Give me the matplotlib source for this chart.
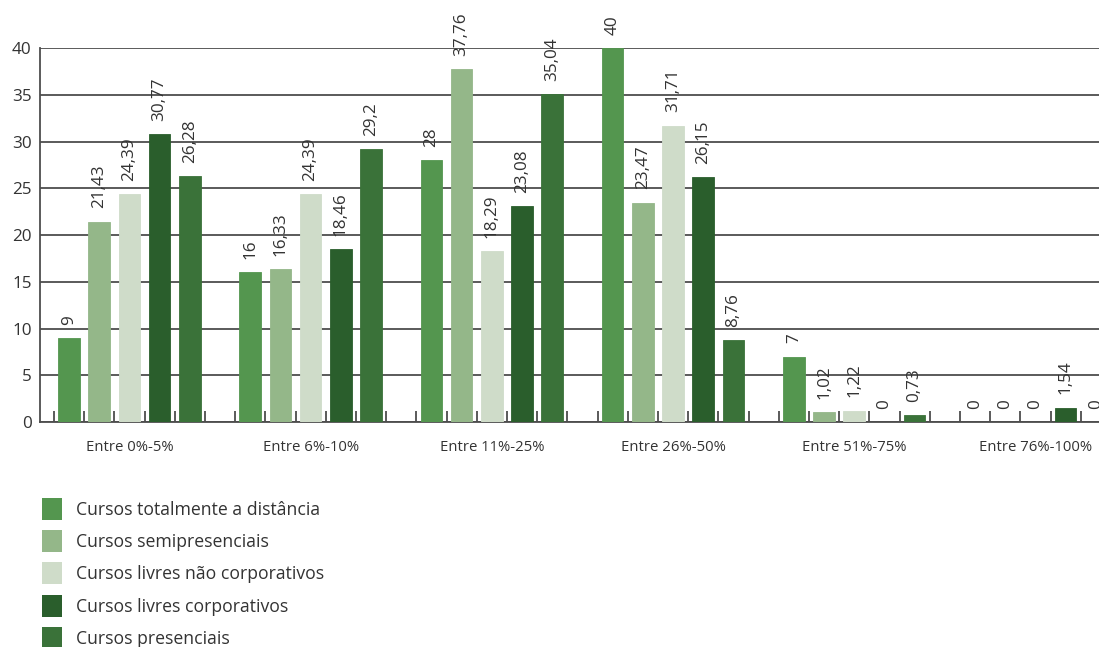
"""
Distribuição percentual por faixa - cursos (barras agrupadas).
"""

import numpy as np
import matplotlib
matplotlib.use("Agg")
import matplotlib.pyplot as plt
from matplotlib.patches import Rectangle
from matplotlib.ticker import FixedLocator

plt.rcParams["font.family"] = ["Open Sans", "DejaVu Sans"]

# ---- data -------------------------------------------------------
categories = ["Entre 0%-5%", "Entre 6%-10%", "Entre 11%-25%",
              "Entre 26%-50%", "Entre 51%-75%", "Entre 76%-100%"]
series = ["Cursos totalmente a distância", "Cursos semipresenciais",
          "Cursos livres não corporativos", "Cursos livres corporativos",
          "Cursos presenciais"]

totalmente_distancia = [9, 16, 28, 40, 7, 0]
semipresenciais = [21.43, 16.33, 37.76, 23.47, 1.02, 0]
livres_nao_corp = [24.39, 24.39, 18.29, 31.71, 1.22, 0]
livres_corp = [30.77, 18.46, 23.08, 26.15, 0, 1.54]
presenciais = [26.28, 29.2, 35.04, 8.76, 0.73, 0]

values = [totalmente_distancia, semipresenciais, livres_nao_corp,
          livres_corp, presenciais]
colors = ["#54964f", "#94b789", "#cfdcc9", "#2a5e2c", "#3a7239"]

TXT = "#333333"
W, H = 1099, 647
SLOT_PX = 30.2            # pixel width of one bar slot

# ---- figure -----------------------------------------------------
fig = plt.figure(figsize=(W / 100, H / 100), dpi=100)
ax = fig.add_axes([40 / W, 1 - 422 / H, 1 - 40 / W, (422 - 48) / H])

n_ser = len(series)
slot = n_ser + 1          # 5 bars + 1 empty slot per group
group_x = np.arange(len(categories)) * slot

for j, (vals, col) in enumerate(zip(values, colors)):
    xs = group_x + j
    ax.bar(xs, vals, width=0.72, color=col, edgecolor=col, linewidth=0.6,
           zorder=3)
    for x, v in zip(xs, vals):
        lbl = f"{v:g}".replace(".", ",")
        ax.annotate(lbl, (x, v), xytext=(0, 9.5), textcoords="offset points",
                    rotation=90, ha="center", va="bottom", fontsize=12.3,
                    color=TXT, annotation_clip=False)

ax.set_ylim(0, 40)
x0 = -(69 - 40) / SLOT_PX
ax.set_xlim(x0, x0 + (W - 40) / SLOT_PX)
ax.set_yticks(np.arange(0, 41, 5))
ax.yaxis.grid(True, color="#4d4d4d", lw=1.3, zorder=1)
ax.tick_params(axis="y", length=0, labelsize=12.3, labelcolor=TXT, pad=6)

ax.set_xticks(group_x + (n_ser - 1) / 2)
ax.set_xticklabels(categories, fontsize=10.7, color=TXT)
ax.tick_params(axis="x", which="major", length=0, pad=13)
ax.xaxis.set_minor_locator(FixedLocator(np.arange(0, len(categories) * slot + 1) - 0.5))
ax.tick_params(axis="x", which="minor", direction="in", length=8,
               width=1.3, color="#4d4d4d")

for s in ["top", "right"]:
    ax.spines[s].set_visible(False)
for s in ["left", "bottom"]:
    ax.spines[s].set_color("#4d4d4d")
    ax.spines[s].set_linewidth(1.3)

# ---- legend (drawn by hand to match spacing) --------------------
for i, (name, col) in enumerate(zip(series, colors)):
    top = 498 + i * 32.2
    fig.add_artist(Rectangle((42 / W, 1 - (top + 22) / H), 20 / W, 22 / H,
                             transform=fig.transFigure, facecolor=col,
                             edgecolor="none"))
    fig.text(76 / W, 1 - (top + 12) / H, name, fontsize=12.7, color=TXT,
             ha="left", va="center")

fig.savefig("out.png", dpi=100)
